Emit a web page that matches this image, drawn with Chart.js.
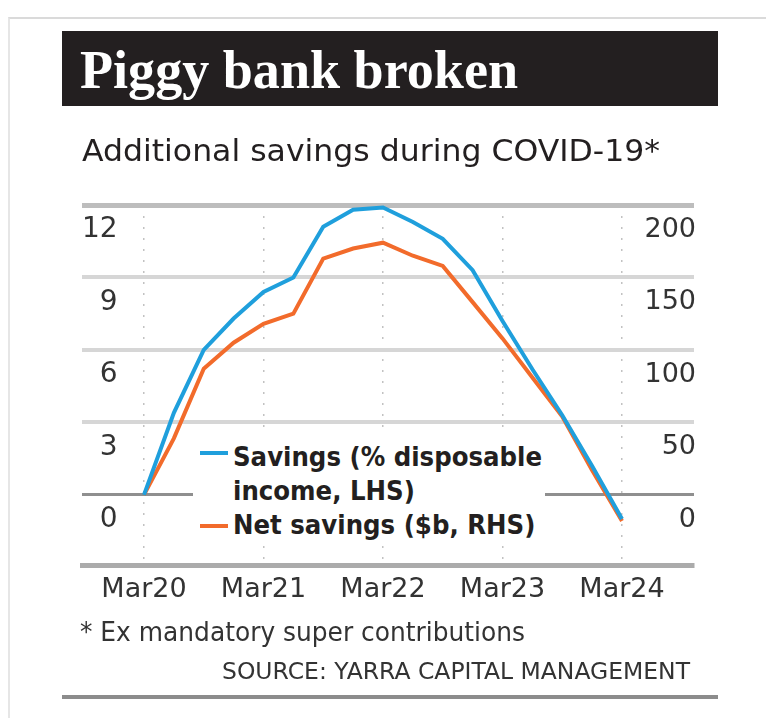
<!DOCTYPE html>
<html>
<head>
<meta charset="utf-8">
<script src="https://cdn.jsdelivr.net/npm/chart.js@4.4.1/dist/chart.umd.min.js"></script>
<style>
  html, body { margin: 0; padding: 0; background: #fff; }
  #wrap { position: relative; width: 766px; height: 718px; overflow: hidden; background: #fff; }
  #frame { position: absolute; left: 8px; top: 17px; width: 800px; height: 760px; border-top: 2px solid #dadada; border-left: 2px solid #e6e6e6; }
  #chart { position: absolute; left: 0; top: 0; z-index: 0; }
  #titlebox { position: absolute; left: 62px; top: 31px; width: 656px; height: 75px; background: #231f20; z-index: 1; }
  .txt { position: absolute; white-space: nowrap; line-height: 1; transform-origin: 0 0; z-index: 2; }
  #title { font-family: "Liberation Serif", serif; font-weight: bold; font-size: 54px; color: #fff; left: 80px; top: 43px; }
  #subtitle { font-family: "DejaVu Sans", sans-serif; font-size: 31px; color: #231f20; left: 82px; top: 135px; }
  #note { font-family: "DejaVu Sans", sans-serif; font-size: 26px; color: #333; left: 80px; top: 619px; }
  #source { font-family: "DejaVu Sans", sans-serif; font-size: 23px; color: #333; left: 222px; top: 660px; }
  #bottomrule { position: absolute; left: 62px; top: 695px; width: 656px; height: 4px; background: #8c8c8c; z-index: 1; }
  #legend { position: absolute; left: 193px; top: 433px; width: 352px; height: 112px; background: #fff; z-index: 1; }
  .sw { position: absolute; left: 200px; width: 28px; height: 4px; z-index: 2; }
  .lg { font-family: "DejaVu Sans", sans-serif; font-weight: bold; font-size: 27px; color: #231f20; left: 233px; }
</style>
</head>
<body>
<div id="wrap">
  <div id="frame"></div>
  <canvas id="chart" width="766" height="718"></canvas>
  <div id="titlebox"></div>
  <div class="txt" id="title"></div>
  <div class="txt" id="subtitle"></div>
  <div id="legend"></div>
  <div class="sw" id="sw0" style="top:451px;"></div>
  <div class="txt lg" id="lg0a" style="top:443px;"></div>
  <div class="txt lg" id="lg0b" style="top:477px;"></div>
  <div class="sw" id="sw1" style="top:524px;"></div>
  <div class="txt lg" id="lg1a" style="top:511px;"></div>
  <div class="txt" id="note"></div>
  <div class="txt" id="source"></div>
  <div id="bottomrule"></div>
</div>
<script>
// ---- Data ----
const quarters = ['Mar20','Jun20','Sep20','Dec20','Mar21','Jun21','Sep21','Dec21','Mar22','Jun22','Sep22','Dec22','Mar23','Jun23','Sep23','Dec23','Mar24'];
const savingsPct = [0, 3.4, 6.0, 7.3, 8.4, 9.0, 11.1, 11.8, 11.9, 11.3, 10.6, 9.3, 7.2, 5.2, 3.3, 1.2, -1.0];
const netSavingsBn = [0, 39, 87, 105, 118, 125, 163, 170, 174, 165, 158, 133, 108, 81, 54, 17, -18];
const xTickLabels = ['Mar20','Mar21','Mar22','Mar23','Mar24'];
const leftTicks = [0, 3, 6, 9, 12];
const rightTicks = [0, 50, 100, 150, 200];
const seriesLabels = ['Savings (% disposable income, LHS)', 'Net savings ($b, RHS)'];
const legendLines = [['Savings (% disposable', 'income, LHS)'], ['Net savings ($b, RHS)']];
const seriesColors = ['#1f9fdc', '#f26b2b'];
const titleText = 'Piggy bank broken';
const subtitleText = 'Additional savings during COVID-19*';
const noteText = '* Ex mandatory super contributions';
const sourceText = 'SOURCE: YARRA CAPITAL MANAGEMENT';

// ---- Texts ----
function setText(id, t) { document.getElementById(id).textContent = t; }
setText('title', titleText);
setText('subtitle', subtitleText);
setText('note', noteText);
setText('source', sourceText);
setText('lg0a', legendLines[0][0]);
setText('lg0b', legendLines[0][1]);
setText('lg1a', legendLines[1][0]);
document.getElementById('sw0').style.background = seriesColors[0];
document.getElementById('sw1').style.background = seriesColors[1];

function fit(id, w, scale) {
  const el = document.getElementById(id);
  const nat = el.getBoundingClientRect().width;
  const s = scale || (w / nat);
  el.style.transform = 'scaleX(' + s + ')';
  return s;
}
fit('title', 438);
fit('subtitle', 578);
fit('note', 445);
fit('source', 468);
const ls = fit('lg0a', 309);
fit('lg0b', 0, ls);
fit('lg1a', 0, ls);

// ---- Chart ----
const leftMin = -2.9, leftMax = 12;
const rightMin = leftMin * 200 / 12, rightMax = 200;

new Chart(document.getElementById('chart'), {
  type: 'line',
  data: {
    datasets: [
      {
        label: seriesLabels[0],
        data: quarters.map((q, i) => ({ x: i, y: savingsPct[i] })),
        yAxisID: 'yL',
        borderColor: seriesColors[0],
        borderWidth: 4,
        pointRadius: 0,
        tension: 0,
        fill: false,
        order: 1
      },
      {
        label: seriesLabels[1],
        data: quarters.map((q, i) => ({ x: i, y: netSavingsBn[i] })),
        yAxisID: 'yR',
        borderColor: seriesColors[1],
        borderWidth: 4,
        pointRadius: 0,
        tension: 0,
        fill: false,
        order: 2
      }
    ]
  },
  options: {
    responsive: false,
    animation: false,
    layout: { padding: { left: 82, right: 72, top: 205, bottom: 113 } },
    plugins: { legend: { display: false }, tooltip: { enabled: false } },
    scales: {
      x: {
        type: 'linear',
        min: -2.075,
        max: 18.41,
        afterBuildTicks: s => { s.ticks = xTickLabels.map(l => ({ value: quarters.indexOf(l) })); },
        afterFit: s => { s.height = 40; },
        ticks: {
          callback: v => quarters[v],
          font: { family: 'DejaVu Sans', size: 27 },
          color: '#333',
          padding: 9,
          maxRotation: 0,
          autoSkip: false
        },
        grid: { color: '#c2c2c2', lineWidth: 1.5, drawTicks: false },
        border: { display: true, color: '#ababab', width: 5, dash: [2, 9] }
      },
      yL: {
        position: 'left',
        min: leftMin,
        max: leftMax,
        afterBuildTicks: s => { s.ticks = leftTicks.map(v => ({ value: v })); },
        afterFit: s => { s.width = 0; },
        ticks: {
          mirror: true,
          crossAlign: 'far',
          padding: 0,
          labelOffset: 25,
          font: { family: 'DejaVu Sans', size: 28 },
          color: '#333'
        },
        grid: {
          drawTicks: false,
          color: c => c.tick && c.tick.value === 12 ? '#bdbdbd' : (c.tick && c.tick.value === 0 ? '#8f8f8f' : '#d6d6d6'),
          lineWidth: c => c.tick && c.tick.value === 12 ? 5 : (c.tick && c.tick.value === 0 ? 3 : 4)
        },
        border: { display: false }
      },
      yR: {
        position: 'right',
        min: rightMin,
        max: rightMax,
        afterBuildTicks: s => { s.ticks = rightTicks.map(v => ({ value: v })); },
        afterFit: s => { s.width = 0; },
        ticks: {
          mirror: true,
          padding: 2,
          labelOffset: 25,
          font: { family: 'DejaVu Sans', size: 27 },
          color: '#333'
        },
        grid: { display: false, drawTicks: false },
        border: { display: false }
      }
    }
  }
});
</script>
</body>
</html>
